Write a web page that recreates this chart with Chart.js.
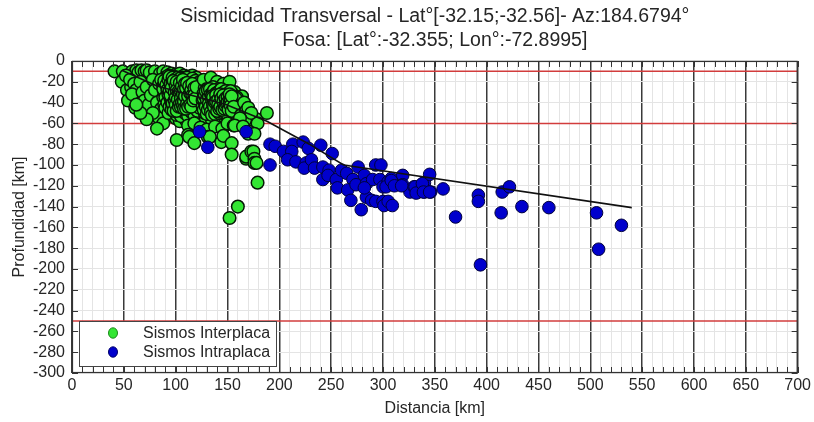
<!DOCTYPE html>
<html>
<head>
<meta charset="utf-8">
<title>Sismicidad Transversal</title>
<script src="https://cdn.jsdelivr.net/npm/chart.js@4/dist/chart.umd.min.js"></script>
<style>
  html, body { margin: 0; padding: 0; background: #fff; }
  #wrap { width: 814px; height: 422px; }
</style>
</head>
<body>
<div id="wrap"><canvas id="chart" width="814" height="422"></canvas></div>
<script>
// --- data (km) ---
const titleLines = [
  'Sismicidad Transversal - Lat°[-32.15;-32.56]- Az:184.6794°',
  'Fosa: [Lat°:-32.355; Lon°:-72.8995]'
];
const seriesNames = ['Sismos Interplaca', 'Sismos Intraplaca'];

// [distancia, profundidad]
const interplaca = [
  // upper row near -10
  [41,-10],[49,-10],[58,-10],[62,-9],[64,-11],[67,-9],[70,-10],[72,-9],[75,-11],[80,-10],
  [85,-12],[88,-10],[92,-11],[96,-12],[100,-13],[104,-12],[108,-14],[112,-15],[116,-14],[120,-16],
  // left fringe
  [48,-20],[53,-28],[57,-25],[54,-38],[61,-45],[70,-52],[64,-36],[67,-46],[52,-14],[56,-18],
  [60,-22],[62,-28],[58,-32],[66,-20],[68,-30],[72,-25],[70,-38],[74,-42],[76,-33],[78,-18],
  [80,-28],[82,-40],[84,-22],[86,-46],[88,-35],[90,-52],[84,-55],[78,-50],[72,-56],[66,-50],
  [62,-42],[88,-60],[82,-65],
  // core around 100 km
  [90,-16],[92,-20],[94,-25],[95,-30],[96,-18],[97,-35],[98,-40],[99,-22],[100,-28],[101,-45],
  [102,-33],[103,-19],[104,-38],[105,-25],[106,-42],[107,-30],[108,-48],[109,-20],[110,-35],[111,-27],
  [112,-40],[113,-50],[114,-23],[115,-32],[116,-44],[117,-18],[118,-37],[119,-28],[120,-46],[121,-24],
  [122,-34],[123,-52],[124,-41],[125,-30],[93,-42],[96,-50],[91,-30],[94,-37],[100,-55],[104,-58],
  [98,-15],[106,-16],[110,-57],[115,-55],[100,-38],[105,-33],[110,-43],[103,-26],[108,-36],[112,-31],
  [102,-41],[98,-32],[117,-26],[119,-40],[95,-45],[107,-52],[113,-36],[121,-55],[97,-26],[109,-29],
  [86,-18],[88,-24],[89,-30],[91,-38],[92,-46],[93,-14],[94,-21],[95,-27],[96,-33],[97,-44],
  [99,-49],[101,-17],[101,-31],[102,-23],[103,-36],[104,-44],[105,-20],[106,-28],[106,-37],[107,-46],
  [108,-24],[109,-32],[109,-41],[110,-18],[111,-49],[112,-23],[113,-28],[114,-39],[114,-46],[115,-20],
  [116,-30],[116,-36],[117,-50],[118,-22],[118,-44],[119,-33],[120,-20],[120,-38],[121,-29],[122,-43],
  [123,-25],[124,-35],[124,-48],[125,-22],[98,-28],[100,-44],[102,-51],[105,-48],[107,-39],[111,-37],
  [113,-44],[96,-22],[92,-34],[89,-42],
  [88,-27],[89,-19],[90,-35],[90,-45],[91,-23],[92,-28],[92,-40],[93,-18],[93,-32],[93,-50],
  [94,-15],[94,-29],[94,-44],[95,-22],[95,-36],[96,-40],[96,-47],[97,-16],[97,-21],[97,-30],
  [98,-24],[98,-37],[98,-45],[99,-18],[99,-27],[99,-34],[99,-42],[100,-21],[100,-32],[100,-48],
  [101,-25],[101,-38],[101,-52],[102,-16],[102,-29],[102,-45],[103,-22],[103,-32],[103,-40],[103,-49],
  [104,-17],[104,-27],[104,-34],[105,-23],[105,-40],[105,-53],[106,-19],[106,-32],[106,-47],[107,-22],
  [107,-27],[107,-35],[108,-17],[108,-30],[108,-43],[109,-25],[109,-37],[109,-50],[110,-22],[110,-30],
  [110,-39],[111,-16],[111,-33],[111,-45],[112,-27],[112,-36],[112,-53],[113,-19],[113,-32],[113,-40],
  [114,-27],[114,-34],[115,-24],[115,-37],[115,-49],[116,-17],[116,-26],[116,-40],[117,-22],[117,-33],
  [117,-46],[118,-29],[118,-52],[119,-19],[119,-24],[119,-45],[120,-30],[120,-35],[121,-40],[121,-48],
  [122,-21],[122,-27],[122,-38],[123,-31],[123,-45],[124,-20],[124,-29],[125,-37],[125,-43],[126,-26],
  [95,-33],[96,-26],[97,-41],[98,-19],[98,-48],[99,-30],[99,-38],[100,-24],[100,-35],[100,-42],
  [101,-20],[101,-28],[101,-48],[102,-37],[103,-29],[103,-44],[104,-21],[104,-31],[104,-41],[105,-29],
  [105,-36],[105,-44],[106,-24],[106,-40],[107,-18],[107,-32],[107,-43],[108,-27],[108,-39],[108,-46],
  [109,-22],[109,-34],[110,-26],[110,-46],[111,-21],[111,-41],[112,-34],[112,-44],[113,-24],[114,-31],
  [114,-42],[115,-28],[115,-44],[116,-22],[116,-33],[117,-38],[118,-26],[118,-33],[119,-36],[120,-25],
  // core around 145 km
  [126,-38],[128,-26],[130,-44],[131,-33],[132,-22],[133,-50],[134,-40],[135,-29],[136,-46],[137,-35],
  [138,-24],[139,-42],[140,-31],[141,-52],[142,-38],[143,-28],[144,-45],[145,-35],[146,-41],[147,-30],
  [148,-48],[149,-38],[150,-33],[151,-44],[152,-27],[153,-40],[154,-36],[155,-50],[156,-42],[157,-30],
  [158,-46],[160,-38],[162,-44],[164,-34],[129,-55],[135,-57],[142,-60],[148,-55],[127,-18],[134,-16],
  [140,-20],[146,-22],[152,-20],[138,-36],[144,-40],[150,-42],
  [126,-44],[127,-31],[128,-40],[128,-50],[129,-35],[130,-27],[131,-39],[132,-46],[133,-31],[134,-36],
  [135,-44],[136,-25],[136,-39],[137,-49],[138,-30],[139,-36],[140,-44],[141,-27],[142,-33],[143,-48],
  [144,-31],[145,-43],[146,-36],[147,-51],[148,-33],[149,-45],[150,-29],[151,-38],[152,-48],[153,-33],
  [154,-44],[155,-38],[156,-33],[157,-47],[158,-40],[159,-35],
  [127,-36],[127,-47],[128,-33],[129,-29],[129,-44],[130,-37],[130,-51],[131,-28],[131,-47],[132,-35],
  [132,-41],[133,-27],[133,-44],[134,-32],[134,-49],[135,-37],[135,-52],[136,-30],[136,-42],[137,-28],
  [137,-39],[138,-45],[138,-51],[139,-31],[139,-47],[140,-35],[140,-40],[141,-33],[141,-45],[142,-29],
  [142,-42],[142,-50],[143,-36],[143,-40],[144,-27],[144,-49],[145,-31],[145,-39],[146,-45],[147,-35],
  [147,-42],[148,-29],[148,-39],[149,-32],[149,-50],[150,-37],[150,-46],[151,-31],[151,-41],[152,-36],
  [152,-44],[153,-29],[153,-47],[154,-39],[155,-34],[155,-45],[156,-38],[157,-41],[158,-36],[159,-44],
  [135,-34],[136,-35],[137,-44],[138,-40],[139,-33],[139,-39],[140,-48],[141,-37],[141,-42],[142,-46],
  [143,-32],[143,-44],[144,-36],[145,-47],[146,-33],[146,-39],[147,-46],[148,-36],[148,-43],[149,-41],
  [150,-35],[150,-40],[151,-47],[152,-32],[152,-40],[153,-37],[153,-43],[154,-34],[154,-48],[156,-44],
  // lower and right fringe
  [112,-62],[118,-60],[124,-64],[130,-66],[138,-63],[145,-65],[150,-60],[163,-52],[166,-40],[168,-48],
  [170,-45],[172,-53],[175,-58],[178,-56],[167,-57],[160,-60],[156,-62],[173,-50],[188,-50],[162,-55],
  [157,-62],[179,-60],[165,-63],[171,-68],[170,-70],[176,-70],
  [101,-76],[112,-71],[113,-73],[118,-79],[131,-73],[133,-73],[144,-78],[146,-72],[154,-79],[154,-90],
  [168,-94],[168,-92],[173,-87],[175,-87],[176,-94],[176,-98],[178,-98],[179,-117],[160,-140],[152,-151]
];

const intraplaca = [
  [123,-68],[131,-83],[168,-68],[191,-80],[196,-82],[191,-100],[204,-87],[213,-80],[212,-87],[208,-95],
  [216,-97],[223,-78],[228,-84],[240,-81],[251,-89],[226,-98],[224,-103],[231,-95],[234,-103],[242,-102],
  [248,-105],[242,-114],[247,-110],[255,-114],[256,-122],[260,-105],[265,-108],[276,-102],[271,-114],[266,-124],
  [269,-134],[274,-119],[279,-143],[282,-110],[284,-118],[284,-131],[289,-134],[293,-100],[298,-100],[290,-114],
  [297,-114],[293,-135],[300,-135],[301,-139],[305,-135],[309,-139],[300,-121],[305,-116],[313,-118],[308,-113],
  [319,-110],[319,-119],[326,-126],[330,-121],[334,-126],[340,-126],[340,-117],[345,-109],[346,-126],[358,-123],
  [282,-122],[303,-121],[308,-115],[311,-120],[318,-120],[331,-121],[332,-127],[338,-118],[339,-126],[345,-126],
  [370,-150],[392,-129],[392,-135],[394,-196],[414,-146],[415,-126],[422,-121],[434,-140],[460,-141],[506,-146],
  [508,-181],[530,-158]
];

// geometria de la placa
const slabX = [48, 82, 149, 188, 229, 262, 540];
const slabY = [-9, -24, -42, -58, -80, -100, -141];

// profundidades de referencia (lineas rojas)
const depthLines = [-10, -60, -250];

const xRange = [0, 700];
const yRange = [-300, 0];
const xStep = 10, xLabelStep = 50, yStep = 20;

// --- styles ---
const FONT = '"Liberation Sans", Arial, sans-serif';
const TEXT = '#262626';
const colors = {
  inter: '#33e633', interEdge: '#061806',
  intra: '#0000cc', intraEdge: '#00003c',
  depth: '#d23c3c', slab: '#111'
};

const toPts = arr => arr.map(([x, y]) => ({ x, y }));

const datasets = [
  {
    label: 'slab',
    data: slabX.map((x, i) => ({ x, y: slabY[i] })),
    showLine: true, borderColor: colors.slab, borderWidth: 1.6,
    pointRadius: 0, fill: false, order: 0
  },
  {
    label: seriesNames[1],
    data: toPts(intraplaca),
    backgroundColor: colors.intra, borderColor: colors.intraEdge,
    borderWidth: 1, pointRadius: 6.3, order: 2
  },
  {
    label: seriesNames[0],
    data: toPts(interplaca),
    backgroundColor: colors.inter, borderColor: colors.interEdge,
    borderWidth: 1.5, pointRadius: 6.3, order: 3
  },
  ...depthLines.map(d => ({
    label: 'depth ' + d,
    data: [{ x: xRange[0], y: d }, { x: xRange[1], y: d }],
    showLine: true, borderColor: colors.depth, borderWidth: 1.5,
    pointRadius: 0, fill: false, order: 4
  }))
];

// frame, inward ticks and legend box
const framePlugin = {
  id: 'frame',
  afterDraw(chart) {
    const { ctx, chartArea: a, scales: { x, y } } = chart;
    ctx.save();
    ctx.strokeStyle = '#333';
    ctx.lineWidth = 1;
    ctx.beginPath();
    x.ticks.forEach(t => {
      const px = Math.round(x.getPixelForValue(t.value)) + 0.5;
      ctx.moveTo(px, a.bottom); ctx.lineTo(px, a.bottom - 6);
      ctx.moveTo(px, a.top); ctx.lineTo(px, a.top + 6);
    });
    y.ticks.forEach(t => {
      const py = Math.round(y.getPixelForValue(t.value)) + 0.5;
      ctx.moveTo(a.left, py); ctx.lineTo(a.left + 6, py);
      ctx.moveTo(a.right, py); ctx.lineTo(a.right - 6, py);
    });
    ctx.stroke();
    ctx.lineWidth = 1.2;
    ctx.strokeRect(a.left + 0.5, a.top + 0.5, a.right - a.left - 1, a.bottom - a.top - 1);

    // legend
    const bx = a.left + 7, by = a.bottom - 52, bw = 197, bh = 45;
    ctx.fillStyle = '#fff';
    ctx.fillRect(bx, by, bw, bh);
    ctx.strokeStyle = '#444';
    ctx.lineWidth = 1;
    ctx.strokeRect(bx + 0.5, by + 0.5, bw, bh);
    const items = [
      { name: seriesNames[0], fill: colors.inter, edge: '#1b8a1b' },
      { name: seriesNames[1], fill: colors.intra, edge: '#00006a' }
    ];
    ctx.font = '16px ' + FONT;
    ctx.textBaseline = 'middle';
    items.forEach((it, i) => {
      const cy = by + 12 + i * 19;
      ctx.beginPath();
      ctx.ellipse(bx + 34, cy, 4.5, 5.2, 0, 0, Math.PI * 2);
      ctx.fillStyle = it.fill;
      ctx.fill();
      ctx.strokeStyle = it.edge;
      ctx.stroke();
      ctx.fillStyle = TEXT;
      ctx.fillText(it.name, bx + 64, cy + 1);
    });
    ctx.restore();
  }
};

new Chart(document.getElementById('chart'), {
  type: 'scatter',
  data: { datasets },
  options: {
    responsive: false,
    animation: false,
    layout: { padding: { left: 0, right: 15, top: 0, bottom: 0 } },
    plugins: {
      legend: { display: false },
      tooltip: { enabled: false },
      title: {
        display: true,
        fullSize: false,
        text: titleLines,
        color: TEXT,
        font: { family: FONT, size: 19.5, weight: 'normal', lineHeight: 1.23 },
        padding: { top: 5, bottom: 8 }
      }
    },
    scales: {
      x: {
        type: 'linear',
        min: xRange[0], max: xRange[1],
        afterFit(s) { s.height = 49; },
        ticks: {
          stepSize: xStep, autoSkip: false, maxRotation: 0, padding: 3,
          color: TEXT, font: { family: FONT, size: 16 },
          callback: v => (v % xLabelStep === 0 ? v : '')
        },
        grid: {
          drawTicks: false,
          color: c => (c.tick && c.tick.value % xLabelStep === 0 ? '#3a3a3a' : '#e4e4e4'),
          lineWidth: c => (c.tick && c.tick.value % xLabelStep === 0 ? 1.5 : 1)
        },
        border: { display: false },
        title: {
          display: true, text: 'Distancia [km]', color: TEXT,
          font: { family: FONT, size: 16 }, padding: { top: 0, bottom: 4 }
        }
      },
      y: {
        type: 'linear',
        min: yRange[0], max: yRange[1],
        afterFit(s) { s.width = 72; },
        ticks: {
          stepSize: yStep, autoSkip: false, padding: 7,
          color: TEXT, font: { family: FONT, size: 16 }
        },
        grid: { drawTicks: false, color: '#e4e4e4', lineWidth: 1 },
        border: { display: false },
        title: {
          display: true, text: 'Profundidad [km]', color: TEXT,
          font: { family: FONT, size: 16 }, padding: { top: 10, bottom: 0 }
        }
      }
    }
  },
  plugins: [framePlugin]
});
</script>
</body>
</html>
